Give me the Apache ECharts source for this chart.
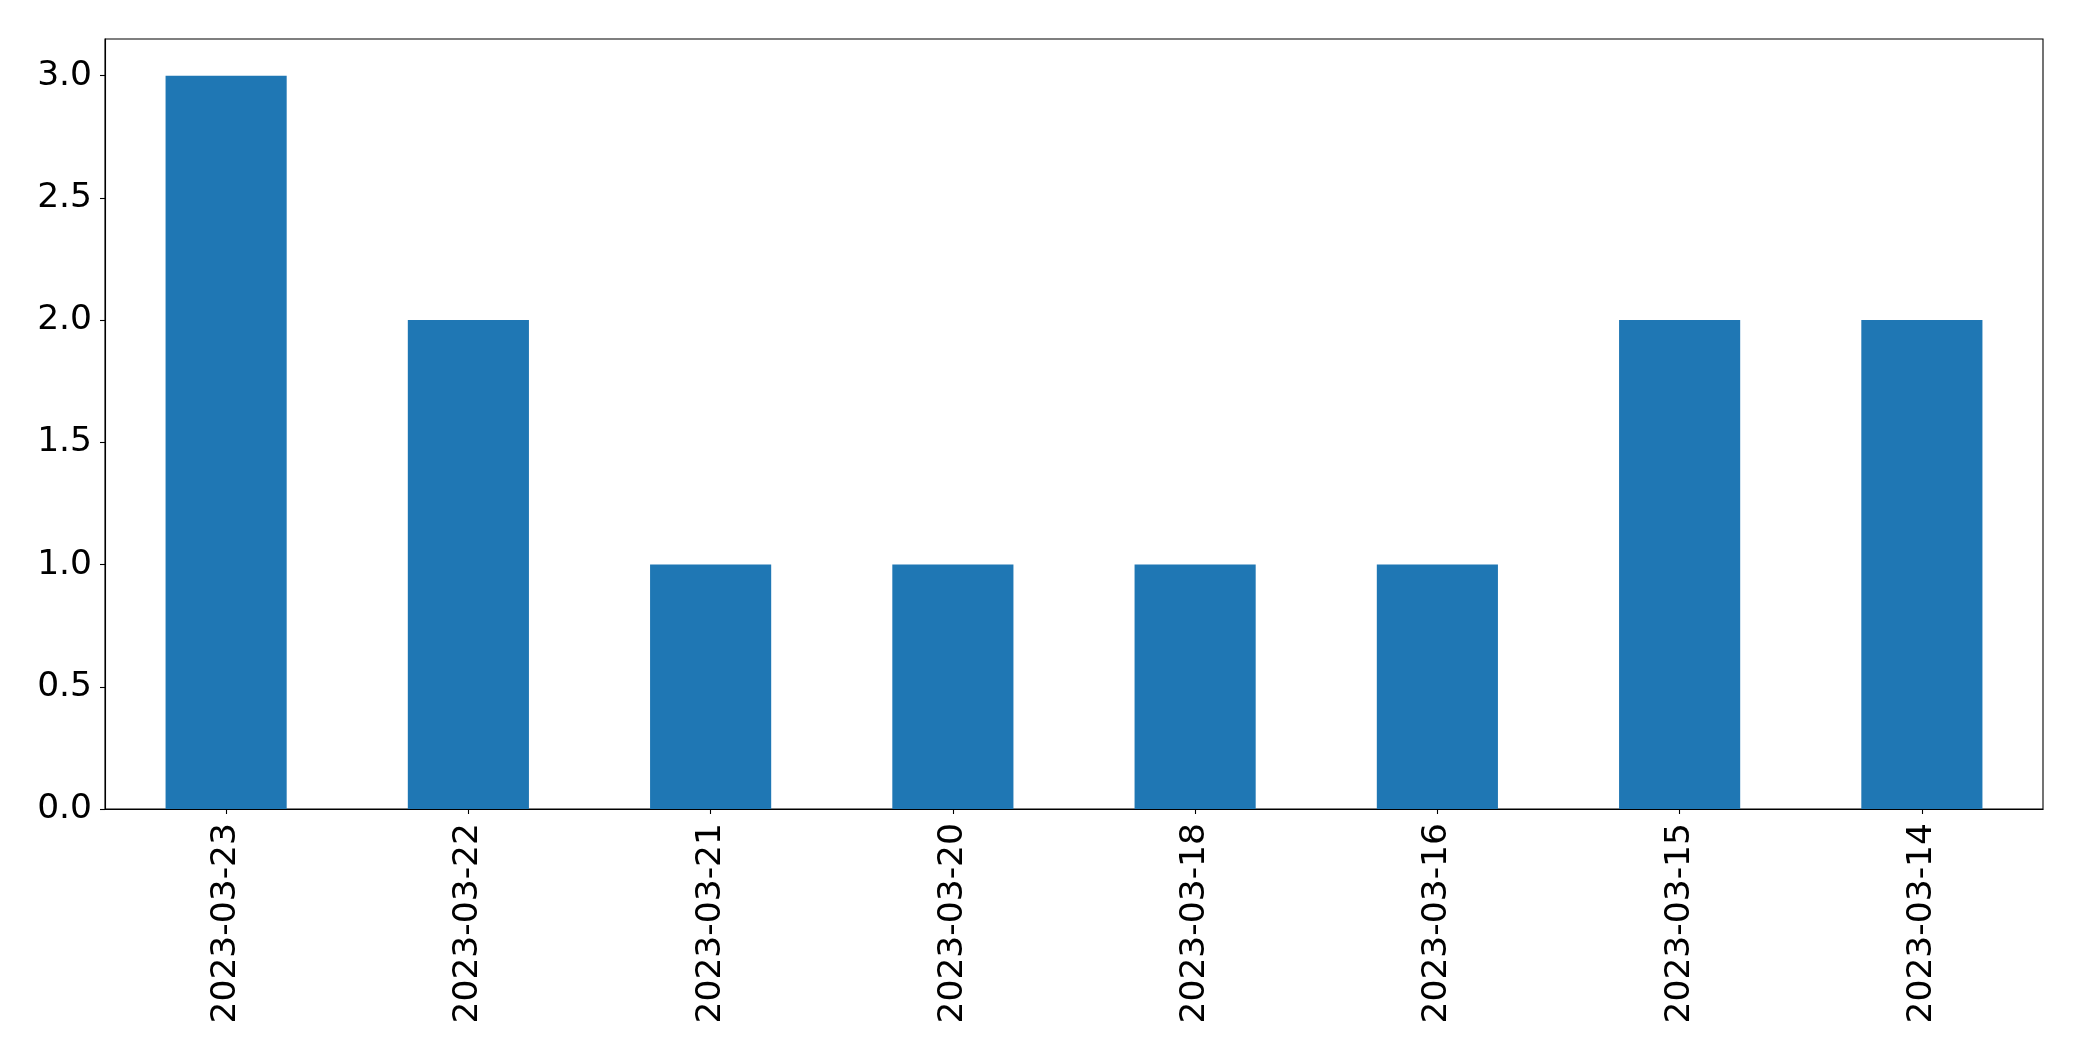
<!DOCTYPE html>
<html>
<head>
<meta charset="utf-8">
<script src="https://cdn.jsdelivr.net/npm/echarts@6/dist/echarts.min.js"></script>
<style>
html,body{margin:0;padding:0;background:#fff;}
#chart{width:2082px;height:1061px;}
</style>
</head>
<body>
<div id="chart"></div>
<script>
const categories = ['2023-03-23','2023-03-22','2023-03-21','2023-03-20','2023-03-18','2023-03-16','2023-03-15','2023-03-14'];
const values = [3, 2, 1, 1, 1, 1, 2, 2];
const yTicks = [0, 0.5, 1.0, 1.5, 2.0, 2.5, 3.0];

const chart = echarts.init(document.getElementById('chart'), null, {renderer: 'canvas'});
const font = 'DejaVu Sans';
chart.setOption({
  animation: false,
  backgroundColor: '#ffffff',
  grid: {
    left: 105, right: 39, top: 39, bottom: 252,
    show: true, borderColor: '#000', borderWidth: 1.1, backgroundColor: 'transparent'
  },
  xAxis: {
    type: 'category',
    data: categories,
    boundaryGap: true,
    axisLine: {show: true, lineStyle: {color: '#000', width: 1.1}},
    axisTick: {show: true, alignWithLabel: true, length: 5, lineStyle: {color: '#000', width: 1.1}},
    axisLabel: {rotate: 90, margin: 14, fontFamily: font, fontSize: 34.5, color: '#000'},
    splitLine: {show: false}
  },
  yAxis: {
    type: 'value',
    min: 0, max: 3.15, interval: 0.5,
    axisLine: {show: true, lineStyle: {color: '#000', width: 1.1}},
    axisTick: {show: true, length: 5, lineStyle: {color: '#000', width: 1.1}, customValues: yTicks},
    axisLabel: {
      margin: 13, fontFamily: font, fontSize: 34.5, color: '#000',
      customValues: yTicks,
      formatter: v => v.toFixed(1)
    },
    splitLine: {show: false}
  },
  series: [{
    type: 'bar',
    data: values,
    barWidth: '50%',
    itemStyle: {color: '#1f77b4'}
  }]
});
</script>
</body>
</html>
